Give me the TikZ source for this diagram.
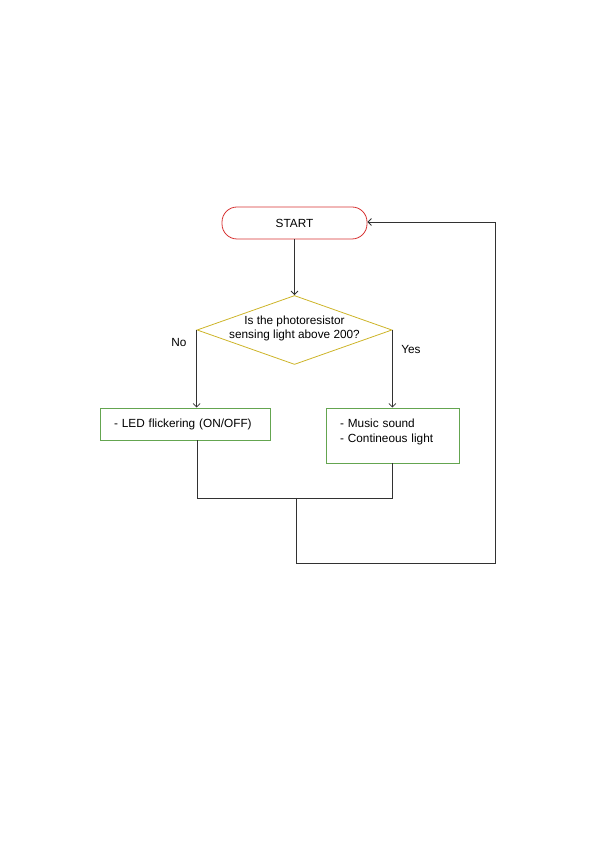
\documentclass[tikz,border=0pt]{standalone}
\usepackage{fontspec}
\setmainfont{Liberation Sans}
\usetikzlibrary{shapes.geometric,arrows.meta}
\definecolor{startred}{RGB}{215,50,50}
\definecolor{decyel}{RGB}{205,180,40}
\definecolor{boxgreen}{RGB}{100,165,80}
\definecolor{linegray}{RGB}{50,50,50}
\tikzset{
  x=1pt,y=1pt,
  every node/.style={font=\fontsize{11.8}{15}\selectfont, inner sep=0pt},
  startbox/.style={draw=startred, line width=0.8pt, rounded corners=15pt, minimum width=145pt, minimum height=32pt},
  decision/.style={draw=decyel, line width=0.8pt, diamond, minimum width=195pt, minimum height=69pt, aspect=2.8},
  actbox/.style={draw=boxgreen, line width=0.8pt, align=left},
  conn/.style={draw=linegray, line width=0.8pt},
  arr/.style={conn, -{Straight Barb[length=3.5pt,width=7pt]}},
  lbl/.style={font=\fontsize{11.8}{14}\selectfont}
}
\begin{document}
\begin{tikzpicture}
\useasboundingbox (0,0) rectangle (595,842);
\node[startbox] (start) at (294.5,619) {START};
\node[decision] (dec) at (294.5,512) {};
\node[align=center, font=\fontsize{11.8}{13.5}\selectfont] (dectext) at (294.5,513.5) {Is the photoresistor\\sensing light above 200?};
\node[actbox, minimum width=170pt, minimum height=32pt, text width=142pt] (led) at (185,418) {- LED flickering (ON/OFF)};
\node[actbox, minimum width=133pt, minimum height=55pt] (music) at (392.5,406.5) {};
\node[align=left, text width=105pt] (musictext) at (392.5,410) {- Music sound\\- Contineous light};
\node[lbl] (no) at (179,499) {No};
\node[lbl] (yes) at (411,492) {Yes};
\coordinate (jl) at (197,344);
\coordinate (jr) at (392,344);
\coordinate (jm) at (296,344);
\coordinate (b1) at (296,279);
\coordinate (b2) at (495,279);
\coordinate (b3) at (495,620);
\draw[arr] (start.south) -- (dec.north);
\draw[arr] (dec.west) -- (dec.west |- led.north);
\draw[arr] (dec.east) -- (dec.east |- music.north);
\draw[conn] (led.south -| jl) -- (jl) -- (jr) -- (music.south -| jr);
\draw[conn] (jm) -- (b1) -- (b2) -- (b3);
\draw[arr] (b3) -- (start.east |- b3);
\end{tikzpicture}
\end{document}
